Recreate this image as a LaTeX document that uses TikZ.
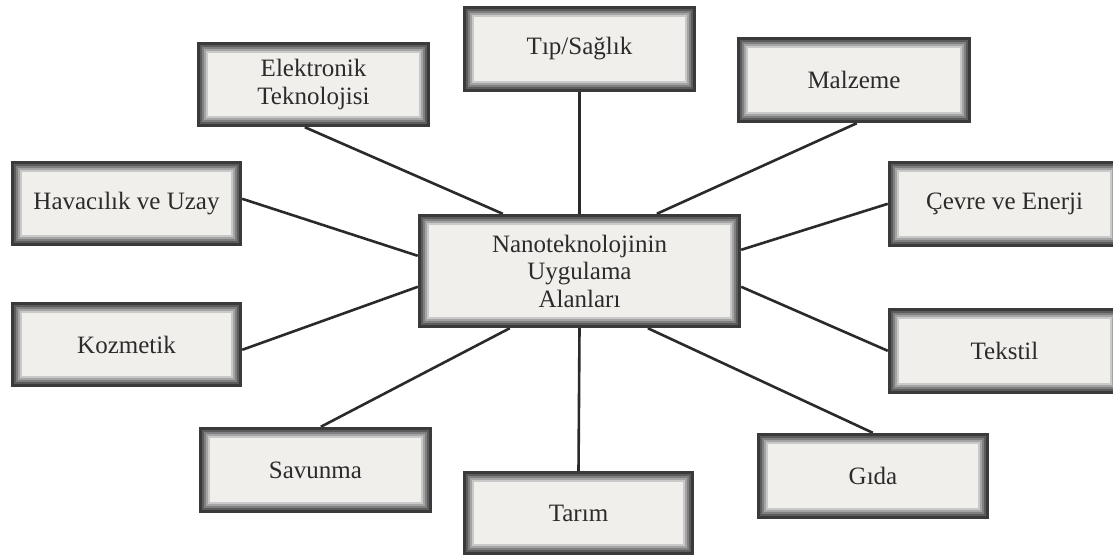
\documentclass[tikz,border=0pt]{standalone}
\usepackage{fontspec}
\setmainfont{Liberation Serif}
\usetikzlibrary{backgrounds}
\definecolor{inner}{HTML}{F1EFEB}
\definecolor{txt}{HTML}{2B2B2B}
\definecolor{lin}{HTML}{2A2A2A}
\definecolor{fa}{HTML}{3A3A3A}
\definecolor{fb}{HTML}{5C5C5C}
\definecolor{fc}{HTML}{808080}
\definecolor{fd}{HTML}{A4A4A4}
\definecolor{fe}{HTML}{C9C9C9}
\tikzset{
  framebox/.style={rectangle, inner sep=0pt, fill=fa, text=txt, align=center,
    font=\fontsize{25}{27.5}\selectfont,
    minimum width=233pt, minimum height=85pt,
    path picture={
      \foreach \i/\c in {3/fb,5/fc,7/fd,9/fe,11/inner}{
        \fill[\c] ([shift={(\i pt,-\i pt)}]path picture bounding box.north west)
          rectangle ([shift={(-\i pt,\i pt)}]path picture bounding box.south east);
      }
    }},
  conn/.style={draw=lin, line width=2.6pt}
}
\begin{document}
\begin{tikzpicture}[x=1pt,y=-1pt]
\useasboundingbox (0,0) rectangle (1113,555);

\node[framebox, minimum width=323pt, minimum height=114pt] (cen) at (579.5,271) {Nanoteknolojinin\\Uygulama\\Alanları};
\node[framebox, minimum height=86pt] (tip) at (579.5,49) {Tıp/Sağlık};
\node[framebox] (elek) at (313.5,84.5) {Elektronik\\Teknolojisi};
\node[framebox, minimum width=234pt, minimum height=86pt] (malz) at (854,80) {Malzeme};
\node[framebox, minimum width=231pt] (hav) at (126.5,203.5) {Havacılık ve Uzay};
\node[framebox, minimum height=86pt] (cevre) at (1004.5,204) {Çevre ve Enerji};
\node[framebox, minimum width=231pt] (koz) at (126.5,344.5) {Kozmetik};
\node[framebox, minimum height=86pt] (teks) at (1004.5,351) {Tekstil};
\node[framebox, minimum height=86pt] (sav) at (315.5,470) {Savunma};
\node[framebox, minimum width=231pt, minimum height=84pt] (tarim) at (578.5,513) {Tarım};
\node[framebox, minimum width=232pt, minimum height=86pt] (gida) at (873,476) {Gıda};

\begin{scope}[on background layer]
\fill[white] (0,0) rectangle (1113,555);
\draw[conn] ([xshift=108pt]elek.south west) -- ([xshift=85pt]cen.north west);
\draw[conn] (tip.south) -- (cen.north);
\draw[conn] ([xshift=120pt]malz.south west) -- ([xshift=239pt]cen.north west);
\draw[conn] ([yshift=-38pt]hav.north east) -- ([yshift=-42pt]cen.north west);
\draw[conn] ([yshift=-48pt]koz.north east) -- ([yshift=-73pt]cen.north west);
\draw[conn] ([yshift=-36pt]cen.north east) -- ([yshift=-43pt]cevre.north west);
\draw[conn] ([yshift=-73pt]cen.north east) -- ([yshift=-43pt]teks.north west);
\draw[conn] ([xshift=92pt]cen.south west) -- ([xshift=122pt]sav.north west);
\draw[conn] (cen.south) -- (tarim.north);
\draw[conn] ([xshift=230pt]cen.south west) -- ([xshift=116pt]gida.north west);
\end{scope}
\end{tikzpicture}
\end{document}
